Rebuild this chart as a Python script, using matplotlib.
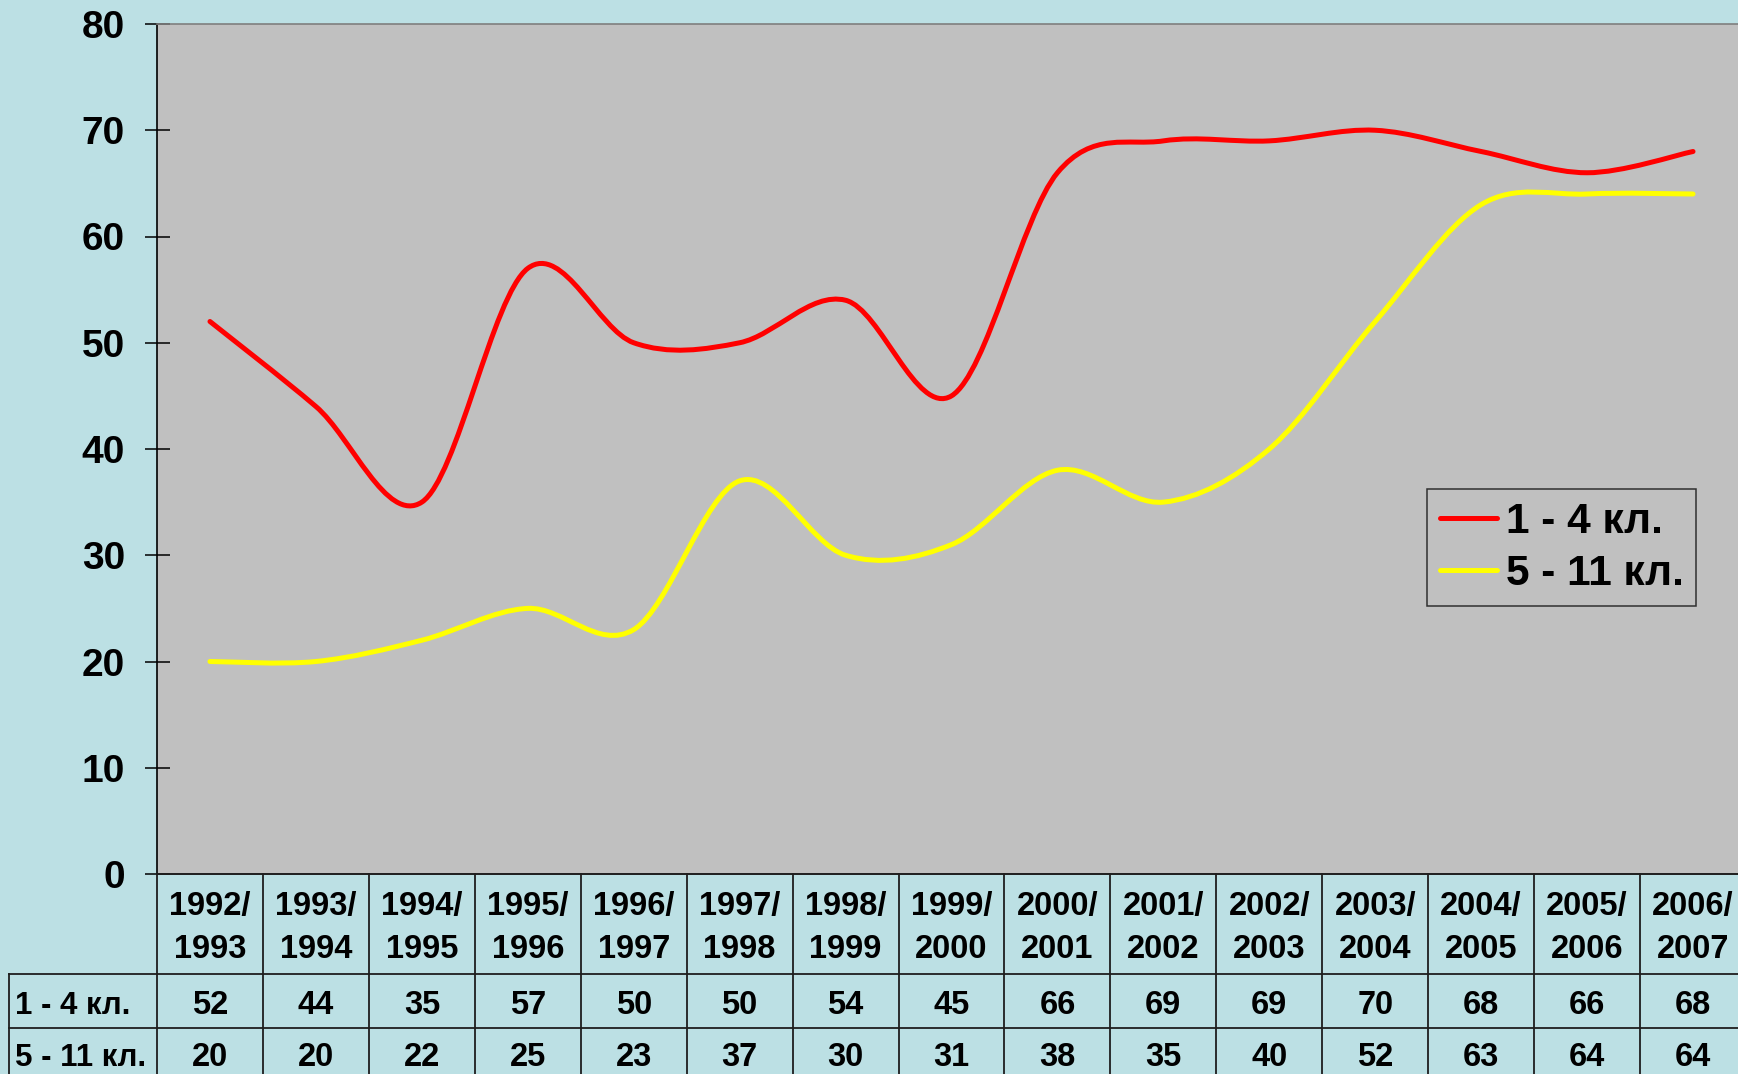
import matplotlib
matplotlib.use("Agg")
import matplotlib.pyplot as plt
import matplotlib.transforms as mtransforms
from matplotlib.path import Path
from matplotlib.patches import PathPatch
from matplotlib.lines import Line2D

# ---- data -------------------------------------------------------------
seasons = ["1992/1993", "1993/1994", "1994/1995", "1995/1996", "1996/1997",
           "1997/1998", "1998/1999", "1999/2000", "2000/2001", "2001/2002",
           "2002/2003", "2003/2004", "2004/2005", "2005/2006", "2006/2007"]
series_names = ["1 - 4 кл.", "5 - 11 кл."]
grades_1_4 = [52, 44, 35, 57, 50, 50, 54, 45, 66, 69, 69, 70, 68, 66, 68]
grades_5_11 = [20, 20, 22, 25, 23, 37, 30, 31, 38, 35, 40, 52, 63, 64, 64]
y_ticks = [0, 10, 20, 30, 40, 50, 60, 70, 80]

# ---- style ------------------------------------------------------------
W, H, DPI = 1738, 1074, 100
BG = "#BCE0E4"
PLOT_BG = "#C0C0C0"
LINE_COLORS = ["#FF0000", "#FFFF00"]
GRID_C = "#1E1E1E"
FONT = "Liberation Sans"

plt.rcParams["font.family"] = [FONT, "DejaVu Sans"]

fig = plt.figure(figsize=(W / DPI, H / DPI), dpi=DPI, facecolor=BG)

# axes box in pixel units
ax_left, ax_right, ax_top, ax_bottom = 157, 1746, 24, 874
ax = fig.add_axes([ax_left / W, 1 - ax_bottom / H,
                   (ax_right - ax_left) / W, (ax_bottom - ax_top) / H])
ax.set_facecolor(PLOT_BG)

n = len(seasons)
xs = list(range(n))
ax.set_xlim(-0.5, n - 0.5)
ax.set_ylim(0, 80)


def smooth_path(x, y):
    """Cubic Bezier path through the points (Catmull-Rom style smoothing)."""
    verts = [(x[0], y[0])]
    codes = [Path.MOVETO]
    m = len(x)
    for i in range(m - 1):
        i0 = max(i - 1, 0)
        i3 = min(i + 2, m - 1)
        c1 = (x[i] + (x[i + 1] - x[i0]) / 6.0, y[i] + (y[i + 1] - y[i0]) / 6.0)
        c2 = (x[i + 1] - (x[i3] - x[i]) / 6.0, y[i + 1] - (y[i3] - y[i]) / 6.0)
        verts += [c1, c2, (x[i + 1], y[i + 1])]
        codes += [Path.CURVE4, Path.CURVE4, Path.CURVE4]
    return Path(verts, codes)


handles = []
for vals, col, name in zip([grades_1_4, grades_5_11], LINE_COLORS, series_names):
    patch = PathPatch(smooth_path(xs, vals), facecolor="none", edgecolor=col,
                      linewidth=3.6, capstyle="round", joinstyle="round", zorder=3)
    ax.add_patch(patch)
    handles.append(Line2D([], [], color=col, linewidth=3.6, solid_capstyle="round"))

# axes decorations
ax.set_yticks(y_ticks)
ax.set_yticklabels([str(v) for v in y_ticks], fontsize=28, fontweight="bold")
ax.tick_params(axis="y", direction="inout", length=18, width=1.1, pad=14, colors="black")
ax.set_xticks([])
ax.spines["right"].set_visible(False)
ax.spines["left"].set_color("black")
ax.spines["left"].set_linewidth(1.2)
ax.spines["top"].set_color("#7F7F7F")
ax.spines["top"].set_linewidth(1.2)
ax.spines["bottom"].set_color(GRID_C)
ax.spines["bottom"].set_linewidth(1.4)

leg = ax.legend(handles, series_names, loc="upper left",
                bbox_to_anchor=(1427 / W, 1 - 489 / H), bbox_transform=fig.transFigure,
                borderaxespad=0, prop={"family": FONT, "weight": "bold", "size": 30.5},
                frameon=True, fancybox=False, facecolor=PLOT_BG, edgecolor="#303030",
                framealpha=1, handlelength=1.36, handletextpad=0.2, borderpad=0.3,
                labelspacing=0.28)
leg.get_frame().set_linewidth(1.1)

# ---- data table under the axis -----------------------------------------
tr_col = mtransforms.blended_transform_factory(ax.transData, fig.transFigure)


def fy(px):
    return 1 - px / H


row_lines = [974, 1028]
bottom_px = 1090
left_px = 9

for k in range(n + 1):
    fig.add_artist(Line2D([k - 0.5, k - 0.5], [fy(ax_bottom), fy(bottom_px)],
                          transform=tr_col, color=GRID_C, linewidth=1.3, clip_on=False))
for r in row_lines:
    fig.add_artist(Line2D([left_px / W, 1.0], [fy(r), fy(r)],
                          transform=fig.transFigure, color=GRID_C, linewidth=1.3,
                          clip_on=False))
fig.add_artist(Line2D([left_px / W, left_px / W], [fy(row_lines[0]), fy(bottom_px)],
                      transform=fig.transFigure, color=GRID_C, linewidth=1.3,
                      clip_on=False))

tfont = {"family": FONT, "weight": "bold", "size": 23.5}
for i, s in enumerate(seasons):
    a, b = s.split("/")
    fig.text(i, fy(907), a + "/", transform=tr_col, ha="center", va="center", **tfont)
    fig.text(i, fy(949), b, transform=tr_col, ha="center", va="center", **tfont)
    fig.text(i, fy(1006), str(grades_1_4[i]), transform=tr_col, ha="center",
             va="center", **tfont)
    fig.text(i, fy(1058), str(grades_5_11[i]), transform=tr_col, ha="center",
             va="center", **tfont)

rfont = dict(tfont, size=22.5)
for name, ypx in zip(series_names, [1006, 1058]):
    fig.text(15 / W, fy(ypx), name, ha="left", va="center", **rfont)

fig.savefig("out.png", dpi=DPI, facecolor=BG)
